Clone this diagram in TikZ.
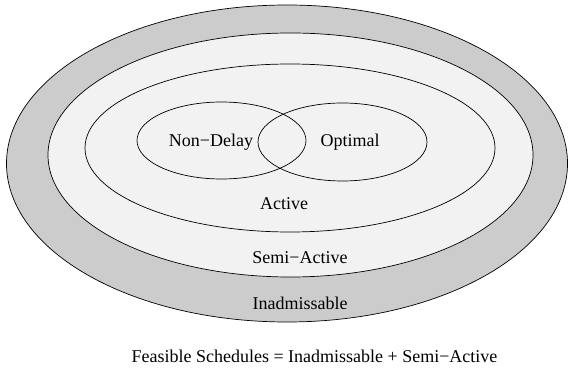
\documentclass[tikz,border=0pt]{standalone}
\usepackage{fontspec}
\setmainfont{Liberation Serif}
\usetikzlibrary{shapes.geometric}
\definecolor{outergray}{HTML}{CCCCCC}
\definecolor{innergray}{HTML}{F2F2F2}
\tikzset{
  setell/.style={ellipse, draw=black, line width=0.7pt, inner sep=0pt, outer sep=0pt},
  lbl/.style={font=\fontsize{18}{21}\selectfont, inner sep=0pt}
}
\begin{document}
\begin{tikzpicture}[x=1pt,y=-1pt]
\useasboundingbox (0,0) rectangle (568,371);
\clip (0,0) rectangle (568,371);
\node[setell, fill=outergray, minimum width=561, minimum height=317] (inad) at (287,163.5) {};
\node[setell, fill=innergray, minimum width=485, minimum height=244] (semi) at (290.5,155) {};
\node[setell, fill=innergray, minimum width=410, minimum height=168] (active) at (290,148) {};
\node[setell, minimum width=169, minimum height=77] (nondelay) at (221.5,140.5) {};
\node[setell, minimum width=169, minimum height=78] (optimal) at (342.5,142) {};
\node[lbl] (tnd) at (211,142) {Non−Delay};
\node[lbl] (topt) at (350,142) {Optimal};
\node[lbl] (tact) at (284,204) {Active};
\node[lbl] (tsemi) at (300,258) {Semi−Active};
\node[lbl] (tinad) at (300,303) {Inadmissable};
\node[lbl] (tfeas) at (314.5,356) {Feasible Schedules = Inadmissable + Semi−Active};
\end{tikzpicture}
\end{document}
